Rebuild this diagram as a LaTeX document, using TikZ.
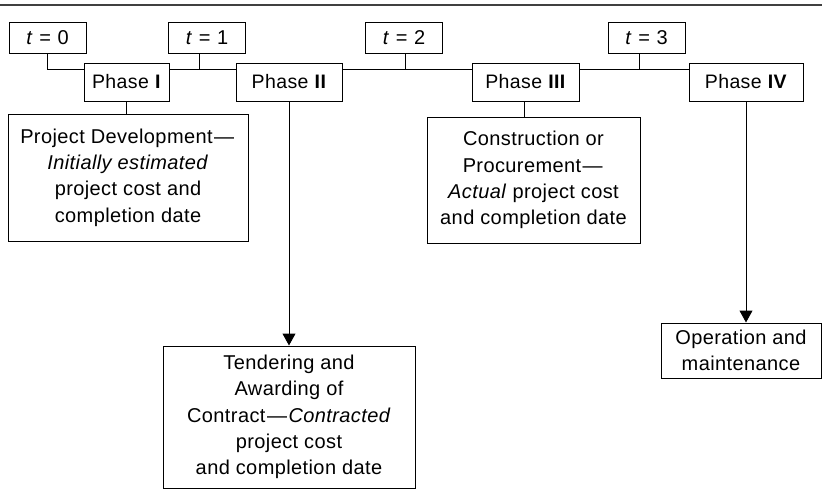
\documentclass[tikz,border=0pt]{standalone}
\usepackage{fontspec}
\setmainfont{Liberation Sans}[LetterSpace=2]
\usetikzlibrary{arrows.meta,backgrounds}
\newcommand{\mdash}{\kern1.5pt—\kern1.5pt}
\newcommand{\teq}[1]{\textit{t}\hspace{0.32em}=\hspace{0.32em}#1}
\begin{document}
\begin{tikzpicture}[x=1pt,y=-1pt,
  box/.style={draw,line width=1pt,fill=white,inner sep=0pt,align=center,
    font=\fontsize{20}{26.3}\selectfont},
  tbox/.style={box,minimum width=77pt,minimum height=31pt,font=\fontsize{20}{23}\selectfont},
  pbox/.style={box,minimum height=38pt,font=\fontsize{19.5}{23}\selectfont},
  conn/.style={line width=1pt},
  arr/.style={conn,-{Triangle[width=13pt,length=12pt]}}]
\useasboundingbox (0,0) rectangle (822,490);
\draw[line width=1.3pt,black!75] (0,5) -- (822,5);

% time markers
\node[tbox] (t0) at (47.5,37.5) {\teq{0}};
\node[tbox] (t1) at (207,37.5) {\teq{1}};
\node[tbox] (t2) at (404,37.5) {\teq{2}};
\node[tbox] (t3) at (646.5,37.5) {\teq{3}};

% phases
\node[pbox,minimum width=85pt] (p1) at (126.5,82) {Phase \textbf{I}};
\node[pbox,minimum width=106pt] (p2) at (289,82) {Phase \textbf{II}};
\node[pbox,minimum width=107pt] (p3) at (525.5,82) {Phase \textbf{III}};
\node[pbox,minimum width=114pt] (p4) at (746,82) {Phase \textbf{IV}};

% descriptions
\node[box,minimum width=240pt,minimum height=127pt] (d1) at (128,177.5)
  {Project Development\mdash\\\textit{Initially estimated}\\project cost and\\completion date};
\node[box,minimum width=213pt,minimum height=126pt] (d3) at (533.5,180)
  {Construction or\\Procurement\mdash\\\textit{Actual} project cost\\and completion date};
\node[box,minimum width=252pt,minimum height=142pt] (d2) at (289,417)
  {Tendering and\\Awarding of\\Contract\mdash\textit{Contracted}\\project cost\\and completion date};
\node[box,minimum width=160pt,minimum height=55pt] (d4) at (741,350.5)
  {Operation and\\maintenance};

\coordinate (lineEnd) at (689,69);

\begin{pgfonlayer}{background}
  \draw[conn] (t0.south) |- (lineEnd);
  \draw[conn] ([xshift=-8pt]t1.south) -- ++(0,16);
  \draw[conn] ([xshift=1pt]t2.south) -- ++(0,16);
  \draw[conn] ([xshift=-7.5pt]t3.south) -- ++(0,16);
  \draw[conn] (p1.south) -- (p1.south |- d1.north);
  \draw[conn] ([xshift=-1.5pt]p3.south) -- ([xshift=-1.5pt]p3.south |- d3.north);
\end{pgfonlayer}
\draw[arr] (p2.south) -- (d2.north);
\draw[arr] (p4.south) -- (p4.south |- d4.north);
\end{tikzpicture}
\end{document}
